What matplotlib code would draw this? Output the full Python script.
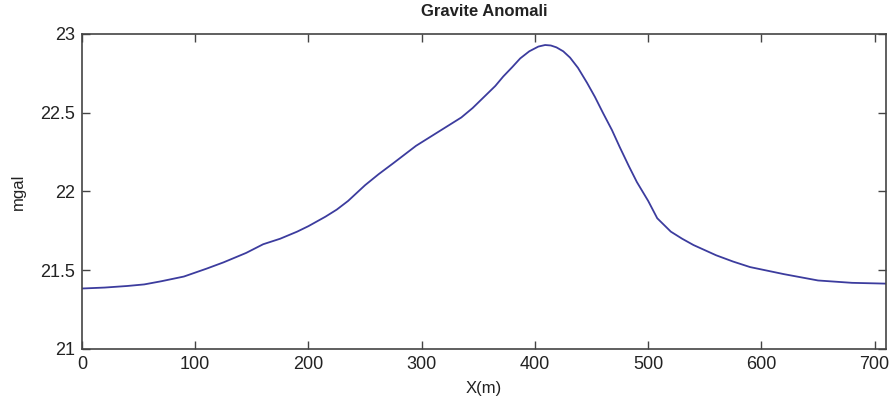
import numpy as np
import matplotlib
matplotlib.use("Agg")
import matplotlib.pyplot as plt

# profile (distance in m, anomaly in mgal)
x_m = [0, 20, 40, 55, 70, 90, 110, 125, 145, 160, 175, 190, 200, 215,
       225, 235, 250, 262, 275, 285, 295, 315, 335, 345, 355, 365, 372,
       380, 387, 395, 403, 409, 414, 419, 425, 431, 438, 446, 453, 460,
       468, 475, 483, 490, 500, 508, 520, 530, 540, 560, 575, 590, 620,
       650, 680, 710]
g_mgal = [21.384, 21.39, 21.40, 21.41, 21.43, 21.46, 21.51, 21.55, 21.61,
          21.665, 21.70, 21.745, 21.78, 21.84, 21.885, 21.94, 22.04, 22.11,
          22.18, 22.235, 22.29, 22.38, 22.47, 22.53, 22.60, 22.67, 22.73,
          22.79, 22.845, 22.89, 22.92, 22.93, 22.927, 22.915, 22.89, 22.85,
          22.785, 22.69, 22.60, 22.50, 22.39, 22.28, 22.16, 22.06, 21.94,
          21.83, 21.745, 21.70, 21.66, 21.595, 21.555, 21.52, 21.475,
          21.435, 21.42, 21.415]
x_ticks = [0, 100, 200, 300, 400, 500, 600, 700]
y_ticks = [21, 21.5, 22, 22.5, 23]
y_tick_labels = ["21", "21.5", "22", "22.5", "23"]

plt.rcParams["font.family"] = ["Liberation Sans", "DejaVu Sans"]

fig = plt.figure(figsize=(8.9, 4.05), dpi=100)
ax = fig.add_axes([0.0921, 0.1383, 0.9034, 0.7778])

ax.plot(x_m, g_mgal, color="#3c3c9e", linewidth=1.3,
        solid_joinstyle="round")

ax.set_xlim(0, 710)
ax.set_ylim(21, 23)
ax.set_xticks(x_ticks)
ax.set_yticks(y_ticks)
ax.set_yticklabels(y_tick_labels)
ax.tick_params(direction="in", length=6, width=1, colors="#444444",
               labelcolor="#222222", labelsize=13, top=True, right=True,
               pad=5)
for s in ax.spines.values():
    s.set_color("#444444")
    s.set_linewidth(1.2)

ax.set_xlabel("X(m)", fontsize=12, color="#222222", labelpad=6)
ax.set_ylabel("mgal", fontsize=12, color="#222222", labelpad=10)
ax.set_title("Gravite Anomali", fontsize=12, fontweight="bold",
             color="#222222", pad=13)

fig.savefig("out.png", dpi=100)
plt.close(fig)
